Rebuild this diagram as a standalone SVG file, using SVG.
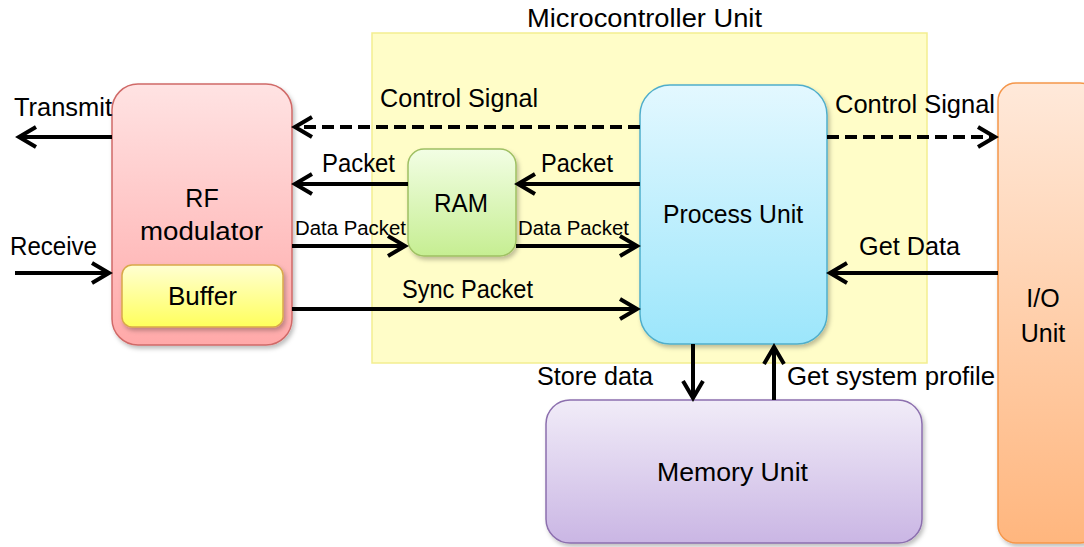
<svg xmlns="http://www.w3.org/2000/svg" width="1084" height="547" viewBox="0 0 1084 547">
<defs>
<style>
text{font-family:"Liberation Sans",Arial,sans-serif;font-size:25px;fill:#000}
.sm{font-size:20px}
.ln{stroke:#000;stroke-width:4;fill:none}
.dash{stroke-dasharray:12 6}
.arr{marker-end:url(#ah)}
</style>
<marker id="ah" markerUnits="userSpaceOnUse" markerWidth="26" markerHeight="26" refX="20" refY="12" orient="auto" overflow="visible">
<path d="M3,2 L20,12 L3,22" fill="none" stroke="#000" stroke-width="4"/>
</marker>
<filter id="sh" x="-10%" y="-10%" width="130%" height="130%">
<feDropShadow dx="2" dy="3" stdDeviation="2" flood-color="#000" flood-opacity="0.25"/>
</filter>
<linearGradient id="gRF" x1="0" y1="0" x2="0" y2="1"><stop offset="0" stop-color="#FFE3E3"/><stop offset="1" stop-color="#FFA9A9"/></linearGradient>
<linearGradient id="gBuf" x1="0" y1="0" x2="0" y2="1"><stop offset="0" stop-color="#FFFFD2"/><stop offset="1" stop-color="#FFFF5C"/></linearGradient>
<linearGradient id="gRAM" x1="0" y1="0" x2="0" y2="1"><stop offset="0" stop-color="#F2FEE4"/><stop offset="1" stop-color="#C6EE92"/></linearGradient>
<linearGradient id="gPU" x1="0" y1="0" x2="0" y2="1"><stop offset="0" stop-color="#E3F8FF"/><stop offset="1" stop-color="#9CE6FB"/></linearGradient>
<linearGradient id="gIO" x1="0" y1="0" x2="0" y2="1"><stop offset="0" stop-color="#FFE9DA"/><stop offset="1" stop-color="#FFB67E"/></linearGradient>
<linearGradient id="gMem" x1="0" y1="0" x2="0" y2="1"><stop offset="0" stop-color="#F1ECF8"/><stop offset="1" stop-color="#CAB6E4"/></linearGradient>
</defs>
<rect width="1084" height="547" fill="#fff"/>

<g id="mcu">
<rect x="372" y="33" width="555" height="330" fill="#FFFDC8" stroke="#F3EE90" stroke-width="1.5"/>
<text x="527" y="27" textLength="235" lengthAdjust="spacingAndGlyphs">Microcontroller Unit</text>
</g>

<g id="rf">
<rect x="112" y="84" width="180" height="261" rx="26" fill="url(#gRF)" stroke="#D06A68" stroke-width="1.5" filter="url(#sh)"/>
<text x="202" y="207" text-anchor="middle">RF</text>
<text x="140" y="240" textLength="123" lengthAdjust="spacingAndGlyphs">modulator</text>
</g>

<g id="buffer">
<rect x="122" y="265" width="161" height="62" rx="10" fill="url(#gBuf)" stroke="#D9A94A" stroke-width="1.5" filter="url(#sh)"/>
<text x="168" y="305" textLength="69" lengthAdjust="spacingAndGlyphs">Buffer</text>
</g>

<g id="ram">
<rect x="408" y="149" width="108" height="107" rx="16" fill="url(#gRAM)" stroke="#9FC063" stroke-width="1.5" filter="url(#sh)"/>
<text x="434" y="212" textLength="54" lengthAdjust="spacingAndGlyphs">RAM</text>
</g>

<g id="process">
<rect x="640" y="85" width="187" height="259" rx="30" fill="url(#gPU)" stroke="#4FAECB" stroke-width="1.5" filter="url(#sh)"/>
<text x="663" y="223" textLength="140" lengthAdjust="spacingAndGlyphs">Process Unit</text>
</g>

<g id="io">
<rect x="998" y="83" width="100" height="460" rx="18" fill="url(#gIO)" stroke="#F5964A" stroke-width="1.5" filter="url(#sh)"/>
<text x="1043" y="307" text-anchor="middle">I/O</text>
<text x="1043" y="342" text-anchor="middle">Unit</text>
</g>

<g id="memory">
<rect x="546" y="400" width="376" height="143" rx="24" fill="url(#gMem)" stroke="#8C6FAE" stroke-width="1.5" filter="url(#sh)"/>
<text x="657" y="481" textLength="151" lengthAdjust="spacingAndGlyphs">Memory Unit</text>
</g>

<g id="connectors">
<line class="ln arr" x1="112" y1="137" x2="19" y2="137"/>
<line class="ln arr" x1="15" y1="273" x2="109" y2="273"/>
<line class="ln arr dash" x1="640" y1="127" x2="295" y2="127"/>
<line class="ln arr" x1="408" y1="184" x2="295" y2="184"/>
<line class="ln arr" x1="640" y1="184" x2="518" y2="184"/>
<line class="ln arr" x1="292" y1="246" x2="405" y2="246"/>
<line class="ln arr" x1="516" y1="246" x2="637" y2="246"/>
<line class="ln arr" x1="292" y1="309" x2="637" y2="309"/>
<line class="ln arr dash" x1="827" y1="137" x2="995" y2="137"/>
<line class="ln arr" x1="998" y1="273" x2="830" y2="273"/>
<line class="ln arr" x1="693" y1="344" x2="693" y2="398"/>
<line class="ln arr" x1="774" y1="400" x2="774" y2="347"/>
</g>

<g id="labels">
<text x="14" y="116" textLength="98" lengthAdjust="spacingAndGlyphs">Transmit</text>
<text x="10" y="255" textLength="87" lengthAdjust="spacingAndGlyphs">Receive</text>
<text x="380" y="107" textLength="158" lengthAdjust="spacingAndGlyphs">Control Signal</text>
<text x="322" y="172" textLength="73" lengthAdjust="spacingAndGlyphs">Packet</text>
<text x="541" y="172" textLength="72" lengthAdjust="spacingAndGlyphs">Packet</text>
<text class="sm" x="295" y="235" textLength="111" lengthAdjust="spacingAndGlyphs">Data Packet</text>
<text class="sm" x="518" y="235" textLength="111" lengthAdjust="spacingAndGlyphs">Data Packet</text>
<text x="402" y="298" textLength="131" lengthAdjust="spacingAndGlyphs">Sync Packet</text>
<text x="835" y="113" textLength="160" lengthAdjust="spacingAndGlyphs">Control Signal</text>
<text x="859" y="255" textLength="101" lengthAdjust="spacingAndGlyphs">Get Data</text>
<text x="537" y="385" textLength="116" lengthAdjust="spacingAndGlyphs">Store data</text>
<text x="787" y="385" textLength="208" lengthAdjust="spacingAndGlyphs">Get system profile</text>
</g>
</svg>
